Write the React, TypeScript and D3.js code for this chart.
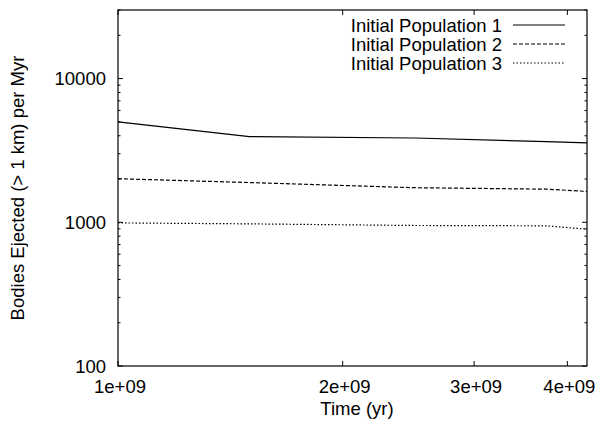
import React from "react";
import * as d3 from "d3";

const times = [1e9, 1.5e9, 2.5e9, 3.75e9, 4.25e9];
const pop1 = [5000, 3950, 3860, 3640, 3570];
const pop2 = [2010, 1890, 1740, 1700, 1640];
const pop3 = [990, 975, 950, 945, 895];
const seriesNames = ["Initial Population 1", "Initial Population 2", "Initial Population 3"];
const xTicks = [1e9, 2e9, 3e9, 4e9];
const xTickLabels = ["1e+09", "2e+09", "3e+09", "4e+09"];
const yTicks = [100, 1000, 10000];
const yTickLabels = ["100", "1000", "10000"];

const W = 595, H = 426;
const M = { left: 118, right: 587, top: 10, bottom: 366 };
const FONT = "Liberation Sans, Arial, Helvetica, sans-serif";
const FS = 18.5;
const dashes = ["none", "4,2", "1.5,2"];

export default function App() {
  const x = d3.scaleLog().domain([1e9, 4.25e9]).range([M.left, M.right]);
  const y = d3.scaleLog().domain([100, 30000]).range([M.bottom, M.top]);
  const allSeries = [pop1, pop2, pop3];
  const line = d3
    .line<[number, number]>()
    .x((d) => x(d[0]))
    .y((d) => y(d[1]));

  const minorY: number[] = [];
  for (const dec of [100, 1000, 10000]) {
    for (let k = 2; k <= 9; k++) {
      const v = dec * k;
      if (v <= 30000) minorY.push(v);
    }
  }
  const maj = 5, minr = 2.5;

  return (
    <svg width={W} height={H} style={{ position: "fixed", left: 0, top: 0, background: "#fff" }} fontFamily={FONT}>
      <rect x={0} y={0} width={W} height={H} fill="#fff" />
      {/* y ticks */}
      {yTicks.map((v, i) => (
        <g key={"yt" + i}>
          <line x1={M.left} x2={M.left + maj} y1={y(v)} y2={y(v)} stroke="#000" />
          <line x1={M.right} x2={M.right - maj} y1={y(v)} y2={y(v)} stroke="#000" />
          <text x={M.left - 12} y={y(v)} dy="0.36em" textAnchor="end" fontSize={FS} fill="#000">
            {yTickLabels[i]}
          </text>
        </g>
      ))}
      {minorY.map((v, i) => (
        <g key={"ym" + i}>
          <line x1={M.left} x2={M.left + minr} y1={y(v)} y2={y(v)} stroke="#000" />
          <line x1={M.right} x2={M.right - minr} y1={y(v)} y2={y(v)} stroke="#000" />
        </g>
      ))}
      {/* x ticks */}
      {xTicks.map((v, i) => (
        <g key={"xt" + i}>
          <line x1={x(v)} x2={x(v)} y1={M.bottom} y2={M.bottom - maj} stroke="#000" />
          <line x1={x(v)} x2={x(v)} y1={M.top} y2={M.top + maj} stroke="#000" />
          <text x={x(v) + 2} y={393} textAnchor="middle" fontSize={FS} fill="#000">
            {xTickLabels[i]}
          </text>
        </g>
      ))}
      {/* series */}
      {allSeries.map((s, i) => (
        <path
          key={"s" + i}
          d={line(times.map((t, j) => [t, s[j]] as [number, number])) || ""}
          fill="none"
          stroke="#000"
          strokeWidth={1.2}
          strokeDasharray={dashes[i]}
        />
      ))}
      {/* frame */}
      <rect x={M.left} y={M.top} width={M.right - M.left} height={M.bottom - M.top} fill="none" stroke="#000" strokeWidth={1.2} />
      {/* legend */}
      {seriesNames.map((n, i) => (
        <g key={"lg" + i}>
          <text x={502} y={25 + i * 19} dy="0.36em" textAnchor="end" fontSize={FS} fill="#000">
            {n}
          </text>
          <line x1={513} x2={565} y1={25 + i * 19} y2={25 + i * 19} stroke="#000" strokeWidth={1.2} strokeDasharray={dashes[i]} />
        </g>
      ))}
      {/* axis titles */}
      <text x={357} y={415} textAnchor="middle" fontSize={FS} fill="#000">
        Time (yr)
      </text>
      <text
        transform={`translate(17,${(M.top + M.bottom) / 2}) rotate(-90)`}
        dy="0.36em"
        textAnchor="middle"
        fontSize={FS}
        fill="#000"
      >
        Bodies Ejected (&gt; 1 km) per Myr
      </text>
    </svg>
  );
}
